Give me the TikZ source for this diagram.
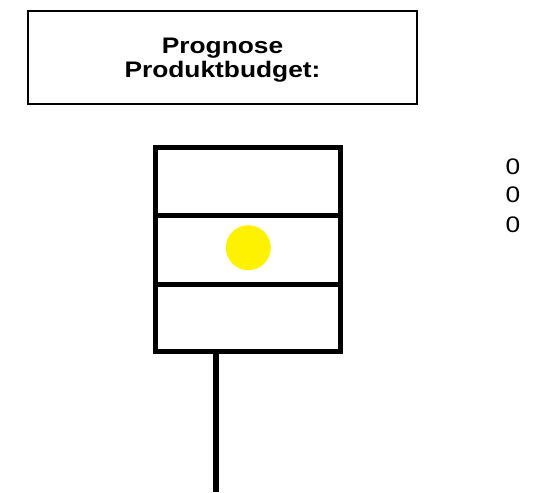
\documentclass[tikz,border=0pt]{standalone}
\usepackage{fontspec}
\setmainfont{Liberation Sans}
\newfontfamily\widefont[FakeStretch=1.17]{Liberation Sans}
\begin{document}
\begin{tikzpicture}[x=1pt,y=-1pt,
  titlebox/.style={draw=black,line width=2pt,minimum width=389pt,minimum height=93pt,inner sep=0pt,outer sep=0pt},
  titletxt/.style={font=\widefont\bfseries\fontsize{22.5}{24.5}\selectfont,inner sep=0pt,anchor=base},
  cell/.style={draw=black,line width=5pt,line join=miter,minimum width=185.3pt,inner sep=0pt,outer sep=0pt},
  lamp/.style={circle,fill=yellow,draw=none,minimum size=45pt,inner sep=0pt},
  zero/.style={font=\widefont\fontsize{22.5}{27}\selectfont,inner sep=0pt,anchor=base},
  pole/.style={line width=5.5pt}]
\useasboundingbox (0,0) rectangle (536,493);
\node[titlebox] (title) at (222.5,57.5) {};
\node[titletxt] (t1) at (222.5,53.3) {Prognose};
\node[titletxt] (t2) at (222.5,77.7) {Produktbudget:};
\node[cell,minimum height=67.7pt] (cellA) at (248.15,181.35) {};
\node[cell,minimum height=69pt] (cellB) at (248.15,249.7) {};
\node[cell,minimum height=67.5pt] (cellC) at (248.15,317.95) {};
\node[lamp] (light) at (248.3,247.7) {};
\coordinate (poletop) at (216,351.7);
\coordinate (polebot) at (216,492);
\draw[pole] (poletop) -- (polebot);
\node[zero] (z1) at (513,174) {0};
\node[zero] (z2) at (513,202.7) {0};
\node[zero] (z3) at (513,232.7) {0};
\end{tikzpicture}
\end{document}
